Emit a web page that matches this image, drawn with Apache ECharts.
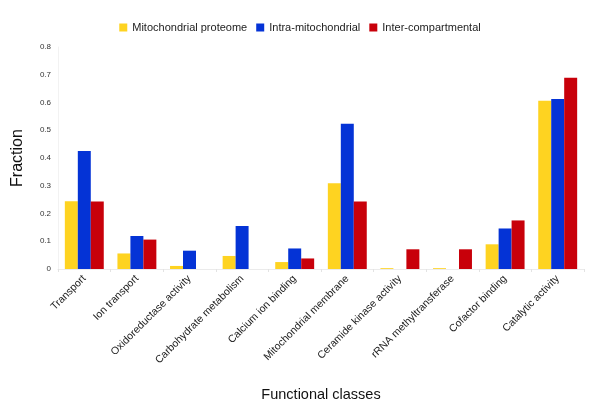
<!DOCTYPE html>
<html>
<head>
<meta charset="utf-8">
<script src="https://cdn.jsdelivr.net/npm/echarts@6/dist/echarts.min.js"></script>
<style>
  html, body { margin: 0; padding: 0; background: #fff; }
  #chart { width: 600px; height: 412px; }
</style>
</head>
<body>
<div id="chart"></div>
<script>
const categories = [
  'Transport', 'Ion transport', 'Oxidoreductase activity', 'Carbohydrate metabolism',
  'Calcium ion binding', 'Mitochondrial membrane', 'Ceramide kinase activity',
  'rRNA methyltransferase', 'Cofactor binding', 'Catalytic activity'
];
const proteome = [0.244, 0.056, 0.011, 0.047, 0.025, 0.309, 0.003, 0.003, 0.089, 0.606];
const intraMito = [0.425, 0.119, 0.066, 0.155, 0.074, 0.523, 0, 0, 0.146, 0.613];
const interComp = [0.243, 0.106, 0, 0, 0.038, 0.243, 0.071, 0.071, 0.175, 0.689];

const colors = ['#fed321', '#0433d6', '#c8000a'];
const font = 'Liberation Sans, Arial, sans-serif';

const chart = echarts.init(document.getElementById('chart'));

const bar = (name, data, idx) => ({
  name,
  type: 'bar',
  data,
  barGap: '0%',
  barCategoryGap: '26%',
  itemStyle: { color: colors[idx] }
});

chart.setOption({
  animation: false,
  backgroundColor: '#fff',
  textStyle: { fontFamily: font },
  legend: {
    top: 17,
    left: 'center',
    itemWidth: 8,
    itemHeight: 8,
    itemGap: 9,
    icon: 'rect',
    textStyle: { fontSize: 11, color: '#222', fontFamily: font }
  },
  grid: { left: 58, right: 16, top: 47, bottom: 143 },
  xAxis: {
    type: 'category',
    data: categories,
    name: 'Functional classes',
    nameLocation: 'middle',
    nameGap: 118,
    nameTextStyle: { fontSize: 14.5, color: '#111', fontFamily: font },
    axisLine: { lineStyle: { color: '#ebebeb' } },
    axisTick: { show: true, length: 3, lineStyle: { color: '#e3e3e3' } },
    axisLabel: { rotate: 45, fontSize: 10.5, color: '#222', margin: 8, interval: 0 }
  },
  yAxis: {
    type: 'value',
    min: 0,
    max: 0.8,
    interval: 0.1,
    name: 'Fraction',
    nameLocation: 'middle',
    nameGap: 32,
    nameTextStyle: { fontSize: 16, color: '#111', fontFamily: font },
    axisLine: { show: true, lineStyle: { color: '#f2f2f2' } },
    axisTick: { show: false },
    splitLine: { show: false },
    axisLabel: {
      fontSize: 8,
      color: '#333',
      margin: 7,
      formatter: v => (v === 0 ? '0' : String(Math.round(v * 10) / 10))
    }
  },
  series: [
    bar('Mitochondrial proteome', proteome, 0),
    bar('Intra-mitochondrial', intraMito, 1),
    bar('Inter-compartmental', interComp, 2)
  ]
});
</script>
</body>
</html>
